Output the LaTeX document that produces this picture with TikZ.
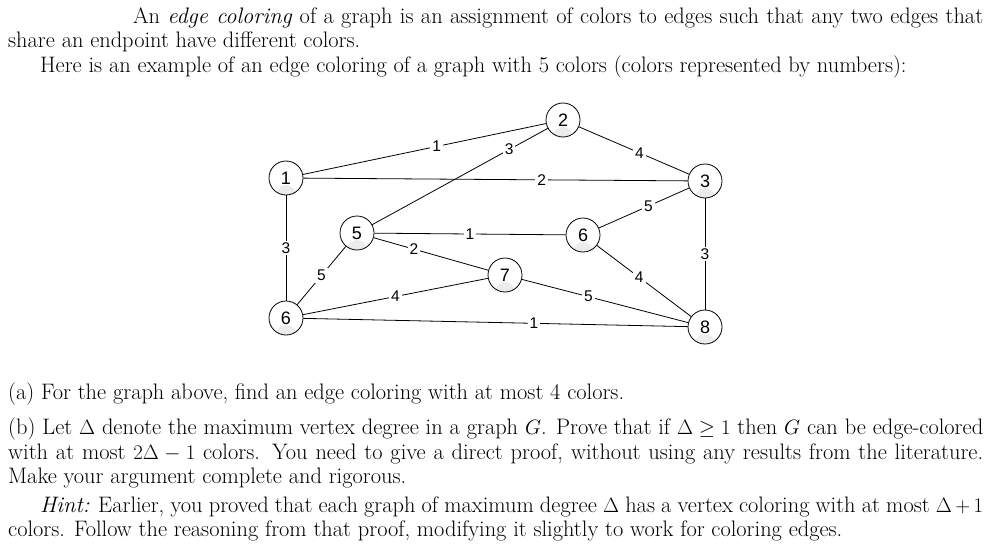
\documentclass[tikz,border=0pt]{standalone}
\usepackage{fontspec}
\newfontfamily\lab{Liberation Sans}
\begin{document}
\begin{tikzpicture}[x=1pt,y=-1pt,
  txt/.style={anchor=north west,inner sep=0pt,text width=975pt,align=justify,font=\fontsize{22.4}{24.6}\selectfont},
  vx/.style={circle,draw,thick,minimum size=34pt,inner sep=0pt,font=\lab\fontsize{18}{18}\selectfont,fill=white,
    path picture={\fill[gray!15] (path picture bounding box.south) circle (10pt);}},
  el/.style={fill=white,inner sep=2pt,font=\lab\fontsize{15.5}{15.5}\selectfont},
  ed/.style={line width=0.8pt}]
\useasboundingbox (0,0) rectangle (999,551);
\node[txt] (top) at (8,7) {\hspace*{125pt}An \emph{edge coloring} of a graph is an assignment of colors to edges such that any two edges that share an endpoint have different colors.\par
\hspace*{32pt}Here is an example of an edge coloring of a graph with 5 colors (colors represented by numbers):};
\node[txt] (bot) at (8,383) {(a) For the graph above, find an edge coloring with at most 4 colors.\par\vspace{10pt}
(b) Let $\Delta$ denote the maximum vertex degree in a graph $G$. Prove that if $\Delta\geq1$ then $G$ can be edge-colored with at most $2\Delta-1$ colors. You need to give a direct proof, without using any results from the literature. Make your argument complete and rigorous.\par\vspace{4pt}
\hspace*{32pt}\emph{Hint:} Earlier, you proved that each graph of maximum degree $\Delta$ has a vertex coloring with at most $\Delta+1$ colors. Follow the reasoning from that proof, modifying it slightly to work for coloring edges.};
\node[vx] (v1) at (286,178) {1};
\node[vx] (v2) at (563,120) {2};
\node[vx] (v3) at (705,181) {3};
\node[vx] (v5) at (357,233) {5};
\node[vx] (v6) at (583,235) {6};
\node[vx] (v7) at (505,275) {7};
\node[vx] (w6) at (286,318) {6};
\node[vx] (v8) at (705,327) {8};
\draw[ed] (v1) -- node[el,pos=0.55]{1} (v2);
\draw[ed] (v5) -- node[el,pos=0.78]{3} (v2);
\draw[ed] (v2) -- node[el,pos=0.55]{4} (v3);
\draw[ed] (v1) -- node[el,pos=0.62]{2} (v3);
\draw[ed] (v3) -- node[el,pos=0.45]{5} (v6);
\draw[ed] (v1) -- node[el]{3} (w6);
\draw[ed] (v3) -- node[el,pos=0.5]{3} (v8);
\draw[ed] (v5) -- node[el,pos=0.5]{1} (v6);
\draw[ed] (v5) -- node[el,pos=0.35]{2} (v7);
\draw[ed] (w6) -- node[el,pos=0.5]{5} (v5);
\draw[ed] (v6) -- node[el,pos=0.45]{4} (v8);
\draw[ed] (w6) -- node[el,pos=0.5]{4} (v7);
\draw[ed] (v7) -- node[el,pos=0.4]{5} (v8);
\draw[ed] (w6) -- node[el,pos=0.6]{1} (v8);
\end{tikzpicture}
\end{document}
